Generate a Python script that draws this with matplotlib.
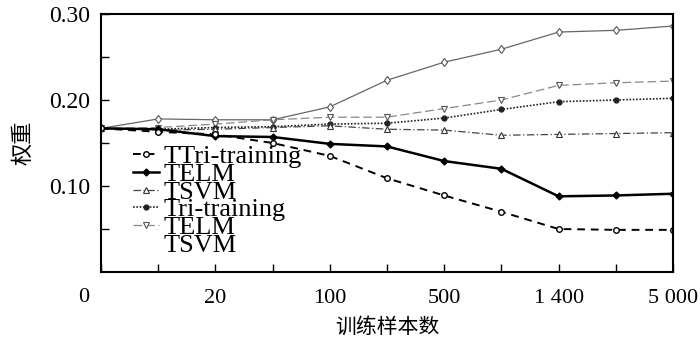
import matplotlib
matplotlib.use("Agg")
import matplotlib.pyplot as plt
import matplotlib.transforms as mtransforms
from matplotlib.lines import Line2D
import numpy as np

plt.rcParams["font.family"] = ["Liberation Serif", "DejaVu Serif"]
CJK = ["Noto Sans CJK SC", "DejaVu Sans"]

# data: 11 sample-size steps, labels shown every other step
idx = np.arange(11)
tick_pos = [2, 4, 6, 8, 10]
tick_labels = ["20", "100", "500", "1 400", "5 000"]

ttri = [0.167, 0.163, 0.160, 0.150, 0.135, 0.109, 0.089, 0.070, 0.050, 0.049, 0.049]
telm = [0.167, 0.166, 0.158, 0.157, 0.149, 0.146, 0.129, 0.120, 0.088, 0.089, 0.091]
tsvm = [0.167, 0.165, 0.166, 0.168, 0.170, 0.166, 0.165, 0.159, 0.160, 0.161, 0.162]
tri = [0.167, 0.166, 0.168, 0.169, 0.172, 0.173, 0.179, 0.189, 0.198, 0.200, 0.202]
telm_tsvm = [0.167, 0.168, 0.172, 0.177, 0.180, 0.180, 0.190, 0.200, 0.217, 0.220, 0.222]
top = [0.167, 0.178, 0.177, 0.177, 0.192, 0.223, 0.244, 0.259, 0.279, 0.281, 0.286]

labels = ["TTri-training", "TELM", "TSVM", "Tri-training", "TELM", "TSVM"]

fig = plt.figure(figsize=(7, 3.46), dpi=100)
ax = fig.add_axes([101 / 700, 1 - 272 / 346, 572 / 700, 258 / 346])

l_top, = ax.plot(idx, top, color="#666666", lw=0.9, marker="d", ms=4.5,
                 mfc="white", mec="#555555", mew=0.8)
l_tv, = ax.plot(idx, telm_tsvm, color="#888888", lw=0.9, ls=(0, (7, 3)),
                marker="v", ms=5, mfc="white", mec="#555555", mew=0.8)
l_tri, = ax.plot(idx, tri, color="#222222", lw=1.2, ls=(0, (1, 1)),
                 marker="o", ms=3.5, mfc="#222222", mec="#222222")
l_tsvm, = ax.plot(idx, tsvm, color="#444444", lw=0.9, ls=(0, (6, 2, 1, 2)),
                  marker="^", ms=4.5, mfc="white", mec="#333333", mew=0.8)
l_telm, = ax.plot(idx, telm, color="black", lw=1.8, marker="D", ms=3.5,
                  mfc="black", mec="black")
l_ttri, = ax.plot(idx, ttri, color="black", lw=1.4, ls=(0, (4, 3)),
                  marker="o", ms=4, mfc="white", mec="black", mew=1.0)

handles = [l_ttri, l_telm, l_tsvm, l_tri, l_tv, Line2D([], [], ls="none")]
ax.legend(handles, labels, loc="upper left", frameon=False,
          bbox_to_anchor=(133 / 700, 1 - 145 / 346), bbox_transform=fig.transFigure,
          fontsize=19, labelspacing=-0.22, handlelength=1.0, handletextpad=0.15,
          borderpad=0, borderaxespad=0)

ax.set_xlim(0, 10)
ax.set_ylim(0, 0.30)
ax.set_xticks(idx)
ax.set_xticklabels(["" if i not in tick_pos else tick_labels[tick_pos.index(i)] for i in idx])
ax.set_yticks([0.10, 0.20, 0.30])
ax.set_yticklabels(["0.10", "0.20", "0.30"])
ax.set_yticks([0.05, 0.15, 0.25], minor=True)
ax.tick_params(axis="both", which="both", direction="in", length=6, width=1.0)
ax.tick_params(axis="x", labelsize=16, pad=12)
ax.tick_params(axis="y", labelsize=17, pad=8)
for s in ax.spines.values():
    s.set_linewidth(1.5)

trans = mtransforms.blended_transform_factory(ax.transData, ax.transAxes)
ax.text(-0.31, -0.099, "0", transform=trans, ha="center", va="center", fontsize=16)

ax.set_xlabel("训练样本数", family=CJK, fontsize=15, labelpad=6)
ax.set_ylabel("权重", family=CJK, fontsize=16, labelpad=10)

fig.savefig("out.png", dpi=100)
